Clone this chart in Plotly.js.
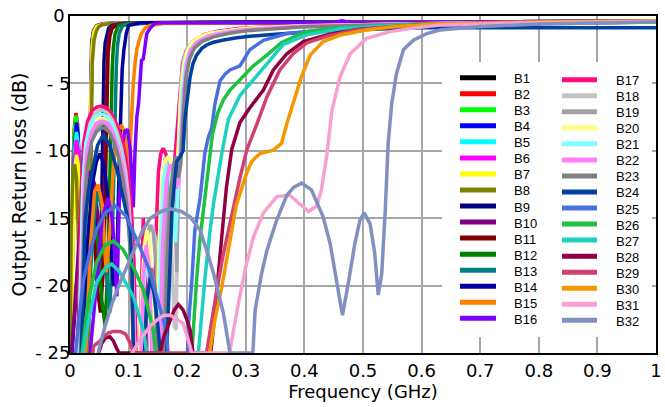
<!DOCTYPE html>
<html>
<head>
<meta charset="utf-8">
<script src="https://cdn.plot.ly/plotly-3.0.1.min.js"></script>
<style>html,body{margin:0;padding:0;background:#fff;}#chart{width:665px;height:407px;}</style>
</head>
<body>
<div id="chart"></div>
<script>
// ---- Data (frequency in GHz, output return loss in dB) ----
const seriesNames = ["B1","B2","B3","B4","B5","B6","B7","B8","B9","B10","B11","B12","B13","B14","B15","B16",
  "B17","B18","B19","B20","B21","B22","B23","B24","B25","B26","B27","B28","B29","B30","B31","B32"];
const seriesColors = ["#000000","#FF0000","#00FF00","#0000FF","#00FFFF","#FF00FF","#FFFF00","#808000",
  "#000080","#800080","#800000","#008000","#008080","#0000A0","#FF8000","#8000FF",
  "#FF0A80","#C4C4C4","#A0A0A8","#FFFF80","#80FFFF","#FF80FF","#808080","#0040A0",
  "#4A70E0","#1EC040","#1ED0C0","#900040","#D04070","#F39800","#F8A0D0","#8090C0"];
const yTickVals = [0,-5,-10,-15,-20,-25];
const yTickText = ["0\u00a0","- 5","- 10","- 15","- 20","- 25"];
const xTickVals = [0,0.1,0.2,0.3,0.4,0.5,0.6,0.7,0.8,0.9,1];
const xTickText = ["0","0.1","0.2","0.3","0.4","0.5","0.6","0.7","0.8","0.9","1"];

const freqB1 = [0,0.003,0.006,0.009,0.012,0.015,0.018,0.021,0.024,0.027,0.03,0.033,0.035,0.037,0.04,0.045,0.055,0.08,0.2,0.5,1];
const rlB1   = [-27,-16,-10,-7.8,-8.2,-12,-20,-27,-22,-17.5,-20,-12,-5,-2,-1.1,-0.75,-0.6,-0.55,-0.5,-0.45,-0.4];
const freqB2 = [0,0.004,0.007,0.01,0.013,0.016,0.019,0.022,0.025,0.028,0.031,0.034,0.036,0.038,0.041,0.046,0.055,0.08,0.2,0.5,1];
const rlB2   = [-27,-14,-8.5,-7.2,-8,-12,-19,-27,-21,-16.3,-19,-10,-4,-1.8,-1.0,-0.7,-0.58,-0.52,-0.48,-0.44,-0.4];
const freqB3 = [0,0.004,0.007,0.01,0.013,0.016,0.019,0.022,0.025,0.028,0.031,0.034,0.036,0.038,0.041,0.046,0.055,0.08,0.2,0.5,1];
const rlB3   = [-27,-14.5,-8.8,-7.4,-8.3,-12.5,-20,-27,-21.5,-16.8,-19.5,-11,-4.5,-2,-1.05,-0.72,-0.58,-0.52,-0.48,-0.44,-0.4];
const freqB4 = [0,0.004,0.008,0.011,0.014,0.017,0.02,0.023,0.026,0.029,0.032,0.034,0.036,0.038,0.041,0.046,0.055,0.08,0.2,0.5,1];
const rlB4   = [-27,-15,-9.5,-7.9,-8.8,-13,-21,-27,-22,-17.3,-20,-11.5,-4.8,-2.1,-1.1,-0.74,-0.6,-0.53,-0.49,-0.45,-0.41];
const freqB5 = [0,0.005,0.008,0.011,0.014,0.017,0.02,0.023,0.026,0.029,0.032,0.034,0.036,0.038,0.041,0.046,0.055,0.08,0.2,0.5,1];
const rlB5   = [-27,-15,-10,-8.6,-9.5,-14,-22,-27,-22,-18,-21,-12,-5,-2.2,-1.1,-0.75,-0.6,-0.53,-0.49,-0.45,-0.41];
const freqB6 = [0,0.005,0.008,0.011,0.014,0.017,0.02,0.023,0.026,0.029,0.032,0.034,0.036,0.038,0.041,0.046,0.055,0.08,0.2,0.5,1];
const rlB6   = [-27,-16,-10.5,-9.2,-10,-14.5,-22,-27,-23,-18.5,-21,-12,-5,-2.2,-1.1,-0.75,-0.6,-0.53,-0.49,-0.45,-0.41];
const freqB7 = [0,0.005,0.008,0.011,0.014,0.017,0.02,0.023,0.026,0.029,0.032,0.034,0.036,0.038,0.041,0.046,0.055,0.08,0.2,0.5,1];
const rlB7   = [-27,-17,-11.5,-10.3,-11,-15.5,-23,-27,-23,-19,-22,-13,-5.5,-2.3,-1.15,-0.78,-0.62,-0.54,-0.5,-0.46,-0.42];
const freqB8 = [0,0.002,0.005,0.008,0.011,0.014,0.017,0.02,0.03,0.033,0.035,0.036,0.038,0.041,0.045,0.049,0.055,0.07,0.1,0.2,0.5,1];
const rlB8   = [-27,-16,-11.5,-11,-12,-16,-25,-27,-27,-22,-14,-7,-3.5,-1.8,-1.1,-0.8,-0.65,-0.55,-0.5,-0.48,-0.45,-0.4];
const freqB9 = [0,0.008,0.015,0.022,0.03,0.038,0.045,0.05,0.054,0.056,0.058,0.06,0.063,0.066,0.072,0.09,0.2,0.5,1];
const rlB9   = [-27,-22,-17,-13.5,-12,-12.5,-15,-19,-14,-7,-3.3,-2,-1.3,-0.9,-0.7,-0.55,-0.5,-0.45,-0.4];
const freqB10 = [0,0.01,0.018,0.026,0.034,0.042,0.05,0.055,0.058,0.06,0.062,0.064,0.067,0.07,0.076,0.09,0.2,0.5,1];
const rlB10   = [-27,-20,-15,-12.5,-11.5,-12.5,-16,-20,-15,-9,-4,-2.3,-1.4,-0.9,-0.7,-0.55,-0.5,-0.45,-0.4];
const freqB11 = [0,0.02,0.028,0.033,0.037,0.041,0.046,0.052,0.058,0.061,0.063,0.065,0.068,0.072,0.08,0.1,0.2,0.5,1];
const rlB11   = [-27,-27,-19,-15.5,-14.4,-15.5,-20,-22,-18,-10,-5,-2.8,-1.5,-0.9,-0.7,-0.55,-0.5,-0.45,-0.4];
const freqB12 = [0,0.02,0.03,0.036,0.041,0.047,0.054,0.06,0.065,0.068,0.07,0.072,0.074,0.077,0.083,0.1,0.2,0.5,1];
const rlB12   = [-27,-27,-20,-16.5,-15.5,-16.5,-21,-23,-18,-12,-7,-4,-2.3,-1.3,-0.7,-0.55,-0.5,-0.45,-0.4];
const freqB13 = [0,0.025,0.035,0.042,0.048,0.055,0.062,0.068,0.072,0.075,0.077,0.079,0.081,0.084,0.09,0.11,0.2,0.5,1];
const rlB13   = [-27,-27,-19,-14.5,-13,-14.5,-19,-22,-17,-11,-7,-3.8,-2.2,-1.3,-0.7,-0.55,-0.5,-0.45,-0.4];
const freqB14 = [0,0.02,0.03,0.038,0.045,0.051,0.058,0.066,0.074,0.08,0.084,0.086,0.089,0.092,0.096,0.1,0.12,0.2,0.5,1];
const rlB14   = [-27,-24,-17,-12.5,-10.8,-10.2,-11,-14,-20,-18,-11,-7,-4,-2.5,-1.3,-0.7,-0.5,-0.48,-0.45,-0.4];
const freqB15 = [0,0.025,0.035,0.042,0.048,0.055,0.062,0.068,0.073,0.078,0.083,0.088,0.093,0.097,0.1,0.102,0.105,0.108,0.111,0.114,0.118,0.122,0.128,0.137,0.16,0.3,0.6,1];
const rlB15   = [-27,-27,-17,-13,-12.5,-14,-19,-16,-12,-9.5,-8.4,-8.1,-8.6,-10,-12,-10,-7.5,-5,-3.5,-2.5,-1.8,-1.3,-0.9,-0.7,-0.55,-0.5,-0.45,-0.4];
const freqB16 = [0,0.03,0.045,0.055,0.065,0.072,0.077,0.08,0.084,0.088,0.093,0.098,0.103,0.106,0.108,0.111,0.114,0.117,0.12,0.122,0.125,0.128,0.131,0.137,0.145,0.16,0.3,0.4,0.45,0.464,0.48,0.6,0.8,1];
const rlB16   = [-27,-27,-20,-15,-13.5,-15,-18,-20.8,-14,-10,-8.6,-8.4,-10,-12,-14.2,-10,-7.5,-6.5,-4.8,-3.3,-3.2,-2.4,-1.3,-0.9,-0.54,-0.5,-0.5,-0.5,-0.5,-0.35,-0.5,-0.45,-0.42,-0.4];
const freqB17 = [0.012,0.016,0.019,0.023,0.03,0.038,0.046,0.054,0.062,0.07,0.078,0.086,0.093,0.1,0.105,0.109,0.113,0.118,0.122,0.125,0.128,0.132,0.142,0.147,0.151,0.155,0.159,0.164,0.169,0.174,0.178,0.183,0.188,0.192,0.198,0.21,0.227,0.25,0.29,0.4,0.6,1];
const rlB17   = [-27,-20,-13,-9.5,-7.8,-7.0,-6.75,-6.7,-6.8,-7.2,-7.9,-8.8,-10,-12,-14.5,-18,-25,-27,-19,-15,-17,-27,-27,-16,-11.5,-10.2,-9.8,-10.3,-11.8,-12.3,-11,-8,-5,-3.5,-2.6,-1.9,-1.4,-1.15,-0.9,-0.7,-0.55,-0.4];
const freqB18 = [0.014,0.018,0.022,0.027,0.034,0.042,0.05,0.056,0.064,0.072,0.08,0.088,0.095,0.1,0.105,0.11,0.116,0.122,0.128,0.134,0.14,0.146,0.152,0.158,0.162,0.166,0.17,0.174,0.178,0.181,0.184,0.187,0.19,0.194,0.2,0.207,0.216,0.23,0.26,0.3,0.4,0.6,1];
const rlB18   = [-27,-19,-12.5,-9.5,-8,-7.3,-7.0,-7.0,-7.2,-7.7,-8.6,-9.8,-11.5,-13.5,-17,-24,-27,-22,-18,-16,-15.5,-16.5,-19,-13,-10.5,-11,-14,-18,-23,-23.3,-14,-7,-4.6,-3.3,-2.4,-2.0,-1.7,-1.4,-1.15,-0.95,-0.75,-0.6,-0.45];
const freqB19 = [0.016,0.02,0.024,0.03,0.037,0.045,0.053,0.06,0.067,0.075,0.083,0.09,0.097,0.102,0.107,0.112,0.118,0.124,0.13,0.136,0.142,0.148,0.154,0.16,0.166,0.171,0.176,0.18,0.182,0.184,0.187,0.191,0.196,0.202,0.21,0.22,0.235,0.26,0.3,0.4,0.6,1];
const rlB19   = [-27,-19,-13.5,-10.5,-9,-8.3,-8.0,-8.0,-8.3,-9,-10,-11.5,-13.5,-16,-20,-27,-27,-21,-17,-15.5,-16,-19,-27,-20,-14,-12,-12.5,-15,-19,-15,-10,-6,-3.8,-2.8,-2.2,-1.8,-1.5,-1.2,-1.0,-0.8,-0.6,-0.45];
const freqB20 = [0.015,0.019,0.023,0.028,0.035,0.043,0.051,0.057,0.065,0.073,0.081,0.089,0.096,0.101,0.106,0.111,0.117,0.123,0.127,0.131,0.135,0.14,0.146,0.152,0.157,0.162,0.168,0.174,0.179,0.183,0.186,0.19,0.195,0.2,0.208,0.222,0.24,0.27,0.3,0.4,0.6,1];
const rlB20   = [-27,-19.5,-13,-10,-8.5,-7.8,-7.6,-7.6,-7.8,-8.5,-9.5,-11,-13,-15.5,-19,-27,-27,-20,-17,-15.9,-16.5,-20,-27,-17,-12.5,-10.8,-10.4,-11.2,-13,-11,-8,-5.5,-3.5,-2.6,-2.0,-1.5,-1.25,-1.05,-0.9,-0.72,-0.58,-0.45];
const freqB21 = [0.014,0.018,0.022,0.027,0.034,0.042,0.05,0.056,0.064,0.072,0.08,0.088,0.095,0.1,0.105,0.11,0.12,0.126,0.131,0.136,0.142,0.15,0.155,0.16,0.165,0.17,0.175,0.18,0.184,0.188,0.192,0.197,0.203,0.212,0.23,0.25,0.28,0.35,0.5,0.7,1];
const rlB21   = [-27,-19,-12.5,-9.5,-8.2,-7.5,-7.3,-7.3,-7.5,-8,-9,-10.5,-12.5,-15,-19,-27,-27,-20,-18.2,-19.5,-27,-27,-16,-12,-11,-11.5,-13.5,-16.8,-13,-8.5,-5.5,-3.6,-2.7,-2.1,-1.6,-1.3,-1.1,-0.85,-0.65,-0.5,-0.42];
const freqB22 = [0.016,0.02,0.024,0.029,0.036,0.044,0.052,0.058,0.066,0.074,0.082,0.09,0.097,0.102,0.107,0.112,0.12,0.125,0.13,0.135,0.141,0.152,0.158,0.164,0.17,0.176,0.181,0.186,0.19,0.194,0.199,0.205,0.215,0.236,0.26,0.3,0.4,0.6,1];
const rlB22   = [-27,-19,-13,-10,-8.7,-8.0,-7.8,-7.8,-8.0,-8.7,-9.7,-11.2,-13.2,-15.8,-19.5,-27,-27,-19.5,-17,-18.5,-27,-27,-17,-12.5,-11,-11.5,-12.8,-12.3,-9,-5.5,-3.6,-2.6,-2.0,-1.5,-1.25,-1.0,-0.75,-0.58,-0.45];
const freqB23 = [0.017,0.021,0.025,0.03,0.037,0.045,0.053,0.059,0.067,0.075,0.083,0.09,0.097,0.102,0.106,0.11,0.126,0.132,0.139,0.145,0.15,0.16,0.166,0.172,0.177,0.181,0.185,0.189,0.193,0.198,0.204,0.212,0.225,0.245,0.27,0.3,0.4,0.6,1];
const rlB23   = [-27,-20,-14,-11,-9.3,-8.6,-8.3,-8.3,-8.6,-9.3,-10.5,-12,-14,-17,-21,-27,-27,-21,-18.7,-20,-27,-27,-18,-13,-11,-10.4,-12,-11,-7.5,-4.5,-3.2,-2.4,-1.9,-1.55,-1.3,-1.1,-0.8,-0.6,-0.45];
const freqB24 = [0.018,0.022,0.026,0.032,0.038,0.047,0.057,0.067,0.08,0.087,0.094,0.099,0.103,0.106,0.109,0.125,0.131,0.137,0.143,0.15,0.158,0.165,0.17,0.174,0.178,0.182,0.187,0.193,0.196,0.2,0.205,0.21,0.216,0.225,0.233,0.245,0.262,0.285,0.307,0.35,0.4,0.5,0.6,0.8,1];
const rlB24   = [-27,-20,-15,-12.8,-11.4,-9.6,-8.8,-9.5,-11.4,-12.8,-14.1,-15.2,-15.9,-19,-27,-27,-21,-19.4,-20.5,-23,-27,-25,-18,-14.5,-12.5,-10.8,-10.5,-10,-7.7,-6,-4.5,-3.5,-2.9,-2.4,-2.15,-1.95,-1.78,-1.62,-1.5,-1.35,-1.2,-1.0,-0.87,-0.87,-0.87];
const freqB25 = [0.005,0.009,0.015,0.023,0.034,0.045,0.06,0.077,0.095,0.119,0.135,0.148,0.158,0.165,0.17,0.199,0.202,0.208,0.213,0.222,0.23,0.236,0.242,0.247,0.256,0.265,0.273,0.29,0.307,0.33,0.37,0.45,0.6,0.8,1];
const rlB25   = [-27,-25,-22.5,-19.6,-17.5,-15.9,-14.6,-14.1,-14.8,-17.1,-18.8,-20.8,-22.3,-23.5,-27,-27,-23,-19.6,-15.9,-13.5,-10.2,-9,-8.3,-6.6,-4.8,-4.3,-4.0,-3.7,-2.5,-1.8,-1.3,-0.95,-0.7,-0.55,-0.45];
const freqB26 = [0.015,0.02,0.03,0.045,0.06,0.074,0.09,0.11,0.125,0.135,0.142,0.146,0.15,0.205,0.208,0.21,0.216,0.222,0.229,0.236,0.243,0.252,0.262,0.273,0.29,0.313,0.336,0.36,0.4,0.45,0.6,0.8,1];
const rlB26   = [-27,-25,-21.5,-18.3,-17.0,-16.7,-17.3,-18.8,-20.3,-22,-23.3,-25,-27,-27,-25,-23.3,-19.6,-16.5,-14,-11.4,-8.8,-7.2,-6.2,-5.5,-4.75,-3.7,-2.9,-2.0,-1.2,-0.9,-0.6,-0.5,-0.4];
const freqB27 = [0.018,0.022,0.03,0.045,0.06,0.071,0.085,0.1,0.108,0.118,0.125,0.131,0.135,0.215,0.219,0.222,0.23,0.239,0.245,0.259,0.27,0.29,0.307,0.324,0.341,0.364,0.404,0.461,0.55,0.7,1];
const rlB27   = [-27,-25,-23,-19.8,-18.7,-18.4,-19,-20.2,-20.8,-22.3,-23.3,-25,-27,-27,-25,-23.3,-19.6,-15.9,-13.9,-10.2,-7.7,-5.9,-5.0,-4.2,-3.3,-2.1,-1.4,-0.95,-0.7,-0.55,-0.4];
const freqB28 = [0.045,0.049,0.054,0.06,0.068,0.074,0.08,0.084,0.15,0.154,0.16,0.171,0.178,0.185,0.193,0.2,0.205,0.21,0.24,0.244,0.247,0.253,0.26,0.267,0.276,0.29,0.307,0.33,0.347,0.37,0.398,0.438,0.49,0.6,0.8,1];
const rlB28   = [-27,-25,-24.3,-23.9,-23.8,-24.1,-24.7,-25,-25,-25,-23.8,-22.6,-21.8,-21.4,-21.8,-22.6,-23.3,-25,-25,-23.5,-22,-18.8,-15.9,-12.7,-9.9,-7.9,-6.8,-5.5,-4.0,-2.8,-1.9,-1.4,-1.0,-0.65,-0.5,-0.38];
const freqB29 = [0.035,0.04,0.049,0.057,0.066,0.074,0.086,0.095,0.103,0.108,0.233,0.24,0.25,0.26,0.268,0.279,0.29,0.302,0.319,0.336,0.358,0.381,0.404,0.438,0.489,0.546,0.7,1];
const rlB29   = [-27,-24.5,-24.2,-23.8,-23.5,-23.4,-23.4,-23.6,-24.3,-25,-25,-23,-20.5,-18,-16.3,-14.2,-12.0,-9.9,-8.0,-6.0,-4.0,-2.8,-2.0,-1.5,-1.04,-0.8,-0.5,-0.35];
const freqB30 = [0.2,0.236,0.239,0.247,0.259,0.27,0.276,0.284,0.29,0.301,0.31,0.324,0.347,0.361,0.37,0.381,0.395,0.41,0.432,0.461,0.506,0.552,0.62,0.8,1];
const rlB30   = [-27,-27,-24.8,-22.6,-20.1,-17.4,-15.9,-14,-13.2,-11.7,-10.8,-10.2,-9.95,-9.45,-8.0,-6.5,-4.5,-2.9,-1.9,-1.41,-1.04,-0.79,-0.6,-0.45,-0.35];
const freqB31 = [0.1,0.106,0.12,0.137,0.15,0.16,0.171,0.183,0.193,0.2,0.208,0.272,0.28,0.287,0.3,0.313,0.33,0.353,0.375,0.392,0.407,0.421,0.429,0.438,0.447,0.461,0.478,0.506,0.546,0.586,0.631,0.8,1];
const rlB31   = [-27,-25,-24,-23.0,-22.5,-22.2,-22.2,-22.5,-22.8,-23.8,-25,-25,-23,-21.4,-18.6,-16.4,-14.6,-13.4,-13.3,-13.9,-14.5,-14.1,-12.9,-10.4,-7.0,-4.5,-2.8,-1.66,-1.16,-0.9,-0.67,-0.5,-0.4];
const freqB32 = [0.042,0.049,0.06,0.072,0.086,0.1,0.112,0.123,0.137,0.155,0.171,0.19,0.205,0.222,0.234,0.245,0.262,0.27,0.273,0.312,0.316,0.327,0.336,0.353,0.37,0.382,0.395,0.412,0.432,0.444,0.455,0.465,0.475,0.486,0.495,0.502,0.512,0.52,0.526,0.532,0.538,0.543,0.549,0.557,0.569,0.586,0.609,0.631,0.695,0.8,1];
const rlB32   = [-27,-24.8,-23,-21.3,-19.7,-18.3,-17,-16,-15,-14.5,-14.3,-14.5,-14.9,-15.9,-17.5,-19.1,-22.1,-24,-25,-25,-21.8,-19.1,-17.4,-15.1,-13.3,-12.7,-12.4,-12.9,-14.9,-16.9,-19.8,-22.2,-19.8,-16.9,-15.1,-14.6,-15.4,-17.6,-20.7,-19.1,-14.4,-9.4,-6.5,-4.3,-2.5,-1.8,-1.3,-1.04,-0.8,-0.6,-0.45];

const freqs = [freqB1,freqB2,freqB3,freqB4,freqB5,freqB6,freqB7,freqB8,freqB9,freqB10,freqB11,freqB12,freqB13,freqB14,freqB15,freqB16,
  freqB17,freqB18,freqB19,freqB20,freqB21,freqB22,freqB23,freqB24,freqB25,freqB26,freqB27,freqB28,freqB29,freqB30,freqB31,freqB32];
const losses = [rlB1,rlB2,rlB3,rlB4,rlB5,rlB6,rlB7,rlB8,rlB9,rlB10,rlB11,rlB12,rlB13,rlB14,rlB15,rlB16,
  rlB17,rlB18,rlB19,rlB20,rlB21,rlB22,rlB23,rlB24,rlB25,rlB26,rlB27,rlB28,rlB29,rlB30,rlB31,rlB32];

// ---- Traces ----
const traces = seriesNames.map((n, i) => ({
  type: "scatter", mode: "lines", name: n,
  x: freqs[i], y: losses[i],
  line: {color: seriesColors[i], width: 3.5},
  showlegend: false, hoverinfo: "skip"
}));

// ---- Two-column legend drawn in paper coordinates ----
const L = 70, R = 9, T = 16, B = 54, W = 665, H = 407;
const pw = W - L - R, ph = H - T - B;
const px2x = p => (p - L) / pw;
const py2y = p => (H - B - p) / ph;
const shapes = [{
  type: "rect", xref: "paper", yref: "paper", layer: "above",
  x0: px2x(442), x1: px2x(652), y0: py2y(337), y1: py2y(62),
  fillcolor: "#ffffff", line: {width: 0}
}];
const annotations = [];
seriesNames.forEach((n, i) => {
  const col = i < 16 ? 0 : 1;
  const row = i % 16;
  const yp = (col === 0 ? 77.7 : 79.7) + row * 16.04;
  const lx0 = col === 0 ? 460 : 562, lx1 = col === 0 ? 496 : 597;
  const tx = col === 0 ? 512 : 614;
  shapes.push({type: "line", xref: "paper", yref: "paper", layer: "above",
    x0: px2x(lx0), x1: px2x(lx1), y0: py2y(yp), y1: py2y(yp),
    line: {color: seriesColors[i], width: 5}});
  annotations.push({xref: "paper", yref: "paper", x: px2x(tx), y: py2y(yp + 1),
    xanchor: "left", yanchor: "middle", showarrow: false, text: n,
    font: {family: "Liberation Sans, Arial, sans-serif", size: 13, color: "#000"}});
});

const axisFont = {family: "DejaVu Sans, Verdana, sans-serif", size: 18, color: "#000"};
const layout = {
  width: W, height: H,
  margin: {l: L, r: R, t: T, b: B, pad: 0},
  paper_bgcolor: "#fff", plot_bgcolor: "#fff",
  showlegend: false,
  xaxis: {
    range: [0, 1], tickvals: xTickVals, ticktext: xTickText,
    showgrid: true, gridcolor: "#A6A6A6", gridwidth: 2,
    zeroline: false, showline: true, linecolor: "#000", linewidth: 2, mirror: true,
    ticks: "", tickfont: axisFont,
    title: {text: "Frequency (GHz)", font: axisFont, standoff: 6}
  },
  yaxis: {
    range: [-25, 0], tickvals: yTickVals, ticktext: yTickText,
    showgrid: true, gridcolor: "#A6A6A6", gridwidth: 2,
    zeroline: false, showline: true, linecolor: "#000", linewidth: 2, mirror: true,
    ticks: "", tickfont: axisFont, ticklabelstandoff: -6,
    title: {text: "Output Return loss (dB)", font: {family: "DejaVu Sans, Verdana, sans-serif", size: 19, color: "#000"}, standoff: 4}
  },
  shapes: shapes,
  annotations: annotations,
  hovermode: false
};

Plotly.newPlot("chart", traces, layout, {displayModeBar: false, staticPlot: true});
</script>
</body>
</html>
